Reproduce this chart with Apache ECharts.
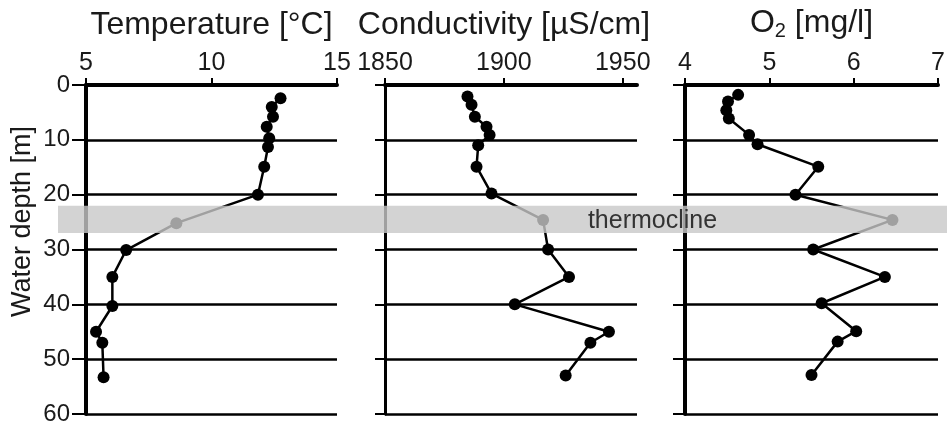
<!DOCTYPE html>
<html><head><meta charset="utf-8">
<script src="https://cdn.jsdelivr.net/npm/echarts@6/dist/echarts.min.js"></script>
<style>html,body{margin:0;padding:0;background:#fff}#c{width:947px;height:428px}</style>
</head><body><div id="c"></div>
<script>
const depthTicks = [0, 10, 20, 30, 40, 50, 60];
const tempTicks = [5, 10, 15];
const condTicks = [1850, 1900, 1950];
const o2Ticks = [4, 5, 6, 7];

const tempDepth = [2.4, 4.0, 5.8, 7.6, 9.7, 11.3, 14.9, 20, 25.2, 30.1, 35, 40.3, 45, 47, 53.3];
const tempValues = [12.75, 12.4, 12.45, 12.2, 12.3, 12.25, 12.1, 11.85, 8.6, 6.6, 6.05, 6.05, 5.4, 5.65, 5.7];

const condDepth = [2.1, 3.6, 5.8, 7.6, 9.1, 11, 14.9, 19.8, 24.6, 30, 35, 40, 45, 47, 53];
const condValues = [1884.7, 1886.4, 1887.8, 1892.7, 1894, 1889.2, 1888.5, 1894.8, 1916.5, 1918.6, 1927.4, 1904.6, 1944.2, 1936.4, 1926];

const o2Depth = [1.8, 3, 4.6, 6.1, 9.1, 10.8, 14.9, 20, 24.6, 30, 35, 39.8, 44.9, 46.8, 52.9];
const o2Values = [4.63, 4.51, 4.49, 4.52, 4.76, 4.86, 5.58, 5.31, 6.46, 5.52, 6.37, 5.62, 6.03, 5.81, 5.5];

const thermocline = [22, 27];
const thermoclineLabel = 'thermocline';
const titles = ['Temperature [°C]', 'Conductivity [µS/cm]', 'O{sub|2} [mg/l]'];
const depthName = 'Water depth [m]';

const FONT = '"Liberation Sans", Arial, Helvetica, sans-serif';
const zip = (xs, ys) => xs.map((x, i) => [x, ys[i]]);

const grids = [
  { left: 86, width: 251, top: 85, bottom: 14 },
  { left: 385, width: 252, top: 85, bottom: 14 },
  { left: 685, width: 253, top: 85, bottom: 14 },
  { left: 58, right: 0, top: 85, bottom: 14 }
].map(g => Object.assign({ containLabel: false, outerBoundsMode: 'none', show: false }, g));

function xAx(i, min, max, ticks, name, nameShift) {
  return {
    gridIndex: i, type: 'value', position: 'top', min: min, max: max, interval: ticks[1] - ticks[0],
    name: name, nameLocation: 'middle', nameGap: 44,
    nameTextStyle: { fontFamily: FONT, fontSize: 32, color: '#1a1a1a', padding: nameShift || 0,
      rich: { sub: { fontFamily: FONT, fontSize: 20, color: '#1a1a1a', verticalAlign: 'bottom', padding: [15, 0, 0, 0] } } },
    axisLine: { show: true, onZero: false, lineStyle: { color: '#000', width: 4 } },
    axisTick: { show: true, length: 7, inside: false, lineStyle: { color: '#000', width: 2 }, customValues: ticks },
    axisLabel: { show: true, margin: 9, fontFamily: FONT, fontSize: 25, color: '#1a1a1a', customValues: ticks,
      formatter: v => String(v) },
    splitLine: { show: false }
  };
}
function yAx(i, tickLen, lineW, showLabels) {
  return {
    gridIndex: i, type: 'value', inverse: true, min: 0, max: 60, interval: 10,
    name: showLabels ? depthName : '', nameLocation: 'middle', nameGap: 50,
    nameTextStyle: { fontFamily: FONT, fontSize: 27, color: '#1a1a1a', padding: [0, 0, 0, 56] },
    axisLine: { show: true, onZero: false, lineStyle: { color: '#000', width: lineW } },
    axisTick: { show: true, length: tickLen, lineStyle: { color: '#000', width: 2 } },
    axisLabel: { show: showLabels, margin: 16, fontFamily: FONT, fontSize: 24, color: '#1a1a1a',
      formatter: v => String(v) },
    splitLine: { show: true, lineStyle: { color: '#000', width: 2.5 } }
  };
}

function lineSeries(i, data) {
  return {
    type: 'line', xAxisIndex: i, yAxisIndex: i, data: data, z: 3,
    symbol: 'circle', symbolSize: 12, showSymbol: true,
    lineStyle: { color: '#000', width: 2.5 },
    itemStyle: { color: '#000' },
    animation: false
  };
}

const option = {
  backgroundColor: '#fff',
  animation: false,
  grid: grids,
  xAxis: [
    xAx(0, 5, 15, tempTicks, titles[0]),
    xAx(1, 1850, 1956, condTicks, titles[1], [0, 14, 0, 0]),
    xAx(2, 4, 7, o2Ticks, titles[2]),
    { gridIndex: 3, type: 'value', min: 0, max: 1, show: false }
  ],
  yAxis: [
    yAx(0, 14, 4, true),
    yAx(1, 10, 3, false),
    yAx(2, 12, 4, false),
    { gridIndex: 3, type: 'value', inverse: true, min: 0, max: 60, show: false }
  ],
  series: [
    lineSeries(0, zip(tempValues, tempDepth)),
    lineSeries(1, zip(condValues, condDepth)),
    lineSeries(2, zip(o2Values, o2Depth)),
    {
      type: 'line', xAxisIndex: 3, yAxisIndex: 3, data: [], z: 20, silent: true,
      markArea: {
        silent: true, z: 20,
        itemStyle: { color: 'rgba(200,200,200,0.8)' },
        label: { show: true, position: 'inside', formatter: thermoclineLabel, offset: [150, 2],
          fontFamily: FONT, fontSize: 25, color: '#333' },
        data: [[{ yAxis: thermocline[0] }, { yAxis: thermocline[1] }]]
      }
    }
  ]
};

const chart = echarts.init(document.getElementById('c'), null, { renderer: 'canvas' });
chart.setOption(option);
</script>
</body></html>
